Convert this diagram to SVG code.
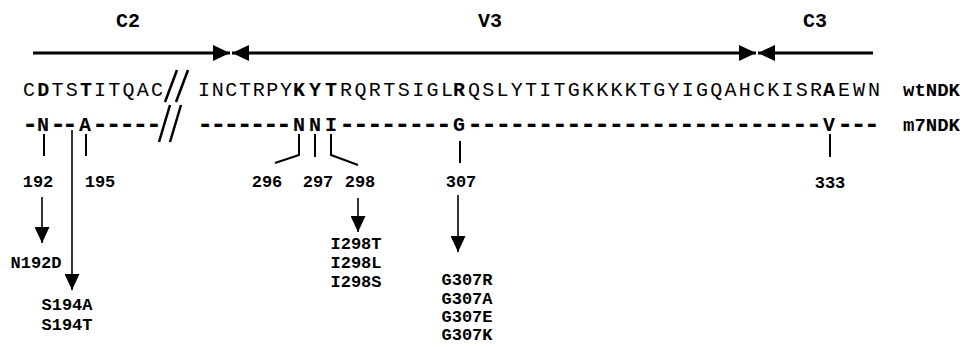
<svg xmlns="http://www.w3.org/2000/svg" width="980" height="347" viewBox="0 0 980 347">
<style>
text{font-family:"Liberation Mono","DejaVu Sans Mono",monospace;fill:#000}
.seq{font-size:20px}
.dash{font-size:27px;font-weight:bold}
.b{font-weight:bold}
.lab{font-size:17px;font-weight:bold}
.reg{font-size:20px;font-weight:bold}
.name{font-size:19px;font-weight:bold}
.thick{stroke:#000;stroke-width:3;fill:none}
.tick{stroke:#000;stroke-width:2;fill:none}
.thin{stroke:#000;stroke-width:1.6;fill:none}
.slash{stroke:#000;stroke-width:2.5;fill:none}
</style>
<defs>
<marker id="big" viewBox="0 0 10 10" refX="10" refY="5" markerUnits="userSpaceOnUse" markerWidth="17" markerHeight="16" preserveAspectRatio="none" orient="auto-start-reverse"><path d="M0,0 L10,5 L0,10 Z" fill="#000"/></marker>
<marker id="down" viewBox="0 0 10 10" refX="10" refY="5" markerUnits="userSpaceOnUse" markerWidth="16" markerHeight="15" preserveAspectRatio="none" orient="auto"><path d="M0,0 L10,5 L0,10 Z" fill="#000"/></marker>
</defs>

<g id="regions">
<text class="reg" x="128" y="27" text-anchor="middle">C2</text>
<text class="reg" x="490" y="27" text-anchor="middle">V3</text>
<text class="reg" x="815" y="27" text-anchor="middle">C3</text>
</g>

<g id="connectors">
<line class="thick" x1="33" y1="53" x2="230" y2="53" marker-end="url(#big)"/>
<line class="thick" x1="232" y1="53" x2="756" y2="53" marker-start="url(#big)" marker-end="url(#big)"/>
<line class="thick" x1="873" y1="53" x2="758" y2="53" marker-end="url(#big)"/>
<line class="slash" x1="177" y1="70" x2="165" y2="102"/>
<line class="slash" x1="188" y1="70" x2="176" y2="102"/>
<line class="slash" x1="170" y1="105" x2="159" y2="142"/>
<line class="slash" x1="181" y1="105" x2="170" y2="142"/>
<line class="tick" x1="44" y1="134" x2="44" y2="156"/>
<line class="tick" x1="86" y1="134" x2="86" y2="156"/>
<polyline class="tick" points="299,134 299,155 275,163"/>
<line class="tick" x1="315" y1="134" x2="315" y2="157"/>
<polyline class="tick" points="331,134 331,155 358,165"/>
<line class="tick" x1="460" y1="141" x2="460" y2="163"/>
<line class="tick" x1="830" y1="134" x2="830" y2="157"/>
<line class="thin" x1="42" y1="197" x2="42" y2="243" marker-end="url(#down)"/>
<line class="thin" x1="72" y1="130" x2="72" y2="290" marker-end="url(#down)"/>
<line class="thin" x1="358" y1="198" x2="358" y2="232" marker-end="url(#down)"/>
<line class="thin" x1="458" y1="195" x2="458" y2="252" marker-end="url(#down)"/>
</g>

<g id="wtNDK">
<text class="seq" x="23" y="96" textLength="140" lengthAdjust="spacing">C<tspan class="b">D</tspan>TS<tspan class="b">T</tspan>ITQAC</text>
<text class="seq" x="198" y="96" textLength="94" lengthAdjust="spacing">INCTRPY</text>
<text class="seq b" x="293 309 325" y="96">KYT</text>
<text class="seq" x="340" y="96" textLength="113" lengthAdjust="spacing">RQRTSIGL</text>
<text class="seq b" x="453" y="96">R</text>
<text class="seq" x="468" y="96" textLength="354" lengthAdjust="spacing">QSLYTITGKKKKTGYIGQAHCKISR</text>
<text class="seq b" x="823" y="96">A</text>
<text class="seq" x="838" y="96" textLength="42" lengthAdjust="spacing">EWN</text>
<text class="name" x="903" y="96">wtNDK</text>
</g>

<g id="m7NDK">
<text class="dash" x="22" y="133">-</text>
<text class="seq b" x="37" y="131">N</text>
<text class="dash" x="50" y="133" textLength="28" lengthAdjust="spacing">--</text>
<text class="seq b" x="79" y="131">A</text>
<text class="dash" x="92" y="133" textLength="70" lengthAdjust="spacing">-----</text>
<text class="dash" x="197" y="133" textLength="95" lengthAdjust="spacing">-------</text>
<text class="seq b" x="293 309 325" y="131">NNI</text>
<text class="dash" x="339" y="133" textLength="113" lengthAdjust="spacing">--------</text>
<text class="seq b" x="453" y="131">G</text>
<text class="dash" x="467" y="133" textLength="355" lengthAdjust="spacing">-------------------------</text>
<text class="seq b" x="823" y="131">V</text>
<text class="dash" x="837" y="133" textLength="43" lengthAdjust="spacing">---</text>
<text class="name" x="903" y="131">m7NDK</text>
</g>

<g id="positions">
<text class="lab" x="38" y="187" text-anchor="middle">192</text>
<text class="lab" x="100" y="187" text-anchor="middle">195</text>
<text class="lab" x="267" y="187" text-anchor="middle">296</text>
<text class="lab" x="318" y="187" text-anchor="middle">297</text>
<text class="lab" x="360" y="187" text-anchor="middle">298</text>
<text class="lab" x="461" y="187" text-anchor="middle">307</text>
<text class="lab" x="830" y="188" text-anchor="middle">333</text>
</g>

<g id="mut192">
<text class="lab" x="36" y="268" text-anchor="middle">N192D</text>
</g>
<g id="mut194">
<text class="lab" x="67" y="310" text-anchor="middle">S194A</text>
<text class="lab" x="67" y="330" text-anchor="middle">S194T</text>
</g>
<g id="mut298">
<text class="lab" x="356" y="249" text-anchor="middle">I298T</text>
<text class="lab" x="356" y="268" text-anchor="middle">I298L</text>
<text class="lab" x="356" y="287" text-anchor="middle">I298S</text>
</g>
<g id="mut307">
<text class="lab" x="467" y="285" text-anchor="middle">G307R</text>
<text class="lab" x="467" y="304" text-anchor="middle">G307A</text>
<text class="lab" x="467" y="322" text-anchor="middle">G307E</text>
<text class="lab" x="467" y="340" text-anchor="middle">G307K</text>
</g>
</svg>
